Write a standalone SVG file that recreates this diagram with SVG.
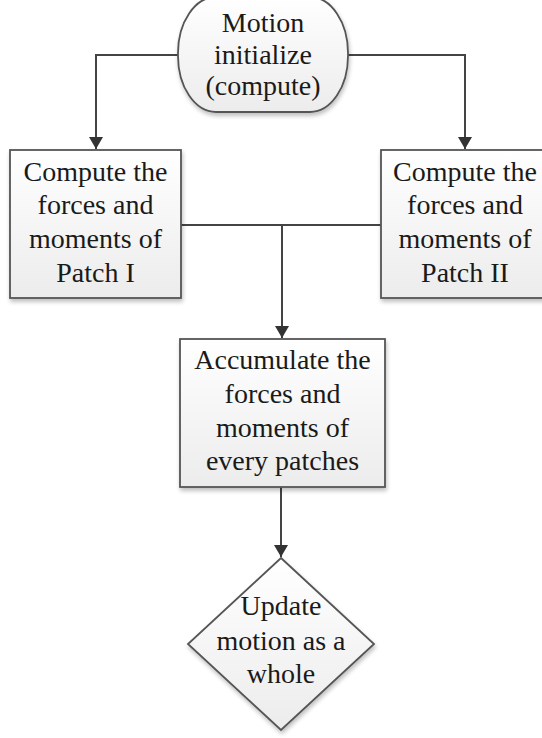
<svg xmlns="http://www.w3.org/2000/svg" width="542" height="738" viewBox="0 0 542 738">
  <defs>
    <linearGradient id="fill" x1="0" y1="0" x2="0" y2="1">
      <stop offset="0" stop-color="#ffffff"/>
      <stop offset="1" stop-color="#ececec"/>
    </linearGradient>
    <filter id="shadow" x="-10%" y="-10%" width="130%" height="130%">
      <feGaussianBlur in="SourceAlpha" stdDeviation="2"/>
      <feOffset dx="1" dy="3" result="b"/>
      <feComponentTransfer><feFuncA type="linear" slope="0.25"/></feComponentTransfer>
      <feMerge><feMergeNode/><feMergeNode in="SourceGraphic"/></feMerge>
    </filter>
    <marker id="arrow" viewBox="0 0 12 14" refX="12" refY="7" markerWidth="12" markerHeight="14" markerUnits="userSpaceOnUse" orient="auto">
      <path d="M0,0 L12,7 L0,14 z" fill="#333333"/>
    </marker>
  </defs>
  <style>
    .shape { fill: url(#fill); stroke: #555555; stroke-width: 1.8; filter: url(#shadow); }
    .wire { fill: none; stroke: #444444; stroke-width: 2; }
    .label { font-family: "Liberation Serif", "Times New Roman", serif; font-size: 28px; fill: #1a1a1a; text-anchor: middle; }
  </style>
  <rect width="542" height="738" fill="#ffffff"/>

  <!-- connectors -->
  <g id="connectors">
    <path class="wire" d="M178,55 H96 V149" marker-end="url(#arrow)"/>
    <path class="wire" d="M348,55 H465 V149" marker-end="url(#arrow)"/>
    <path class="wire" d="M181,225 H381"/>
    <path class="wire" d="M282,225 V338" marker-end="url(#arrow)"/>
    <path class="wire" d="M281,487 V557" marker-end="url(#arrow)"/>
  </g>

  <!-- start: motion initialize -->
  <g id="node-init">
    <rect class="shape" x="178" y="-3" width="170" height="115" rx="38" ry="56"/>
    <text class="label" x="263" y="32">Motion</text>
    <text class="label" x="263" y="64">initialize</text>
    <text class="label" x="263" y="95">(compute)</text>
  </g>

  <!-- patch I -->
  <g id="node-patch1">
    <rect class="shape" x="10" y="150" width="171" height="148"/>
    <text class="label" x="95.5" y="181">Compute the</text>
    <text class="label" x="95.5" y="214">forces and</text>
    <text class="label" x="95.5" y="248">moments of</text>
    <text class="label" x="95.5" y="282">Patch I</text>
  </g>

  <!-- patch II -->
  <g id="node-patch2">
    <rect class="shape" x="381" y="150" width="169" height="148"/>
    <text class="label" x="465" y="181">Compute the</text>
    <text class="label" x="465" y="214">forces and</text>
    <text class="label" x="465" y="248">moments of</text>
    <text class="label" x="465" y="282">Patch II</text>
  </g>

  <!-- accumulate -->
  <g id="node-accumulate">
    <rect class="shape" x="180" y="339" width="205" height="148"/>
    <text class="label" x="282.5" y="369">Accumulate the</text>
    <text class="label" x="282.5" y="403">forces and</text>
    <text class="label" x="282.5" y="437">moments of</text>
    <text class="label" x="282.5" y="470">every patches</text>
  </g>

  <!-- update decision -->
  <g id="node-update">
    <polygon class="shape" points="281,558 374,644 281,730 188,644"/>
    <text class="label" x="281" y="615">Update</text>
    <text class="label" x="281" y="650">motion as a</text>
    <text class="label" x="281" y="683">whole</text>
  </g>
</svg>
